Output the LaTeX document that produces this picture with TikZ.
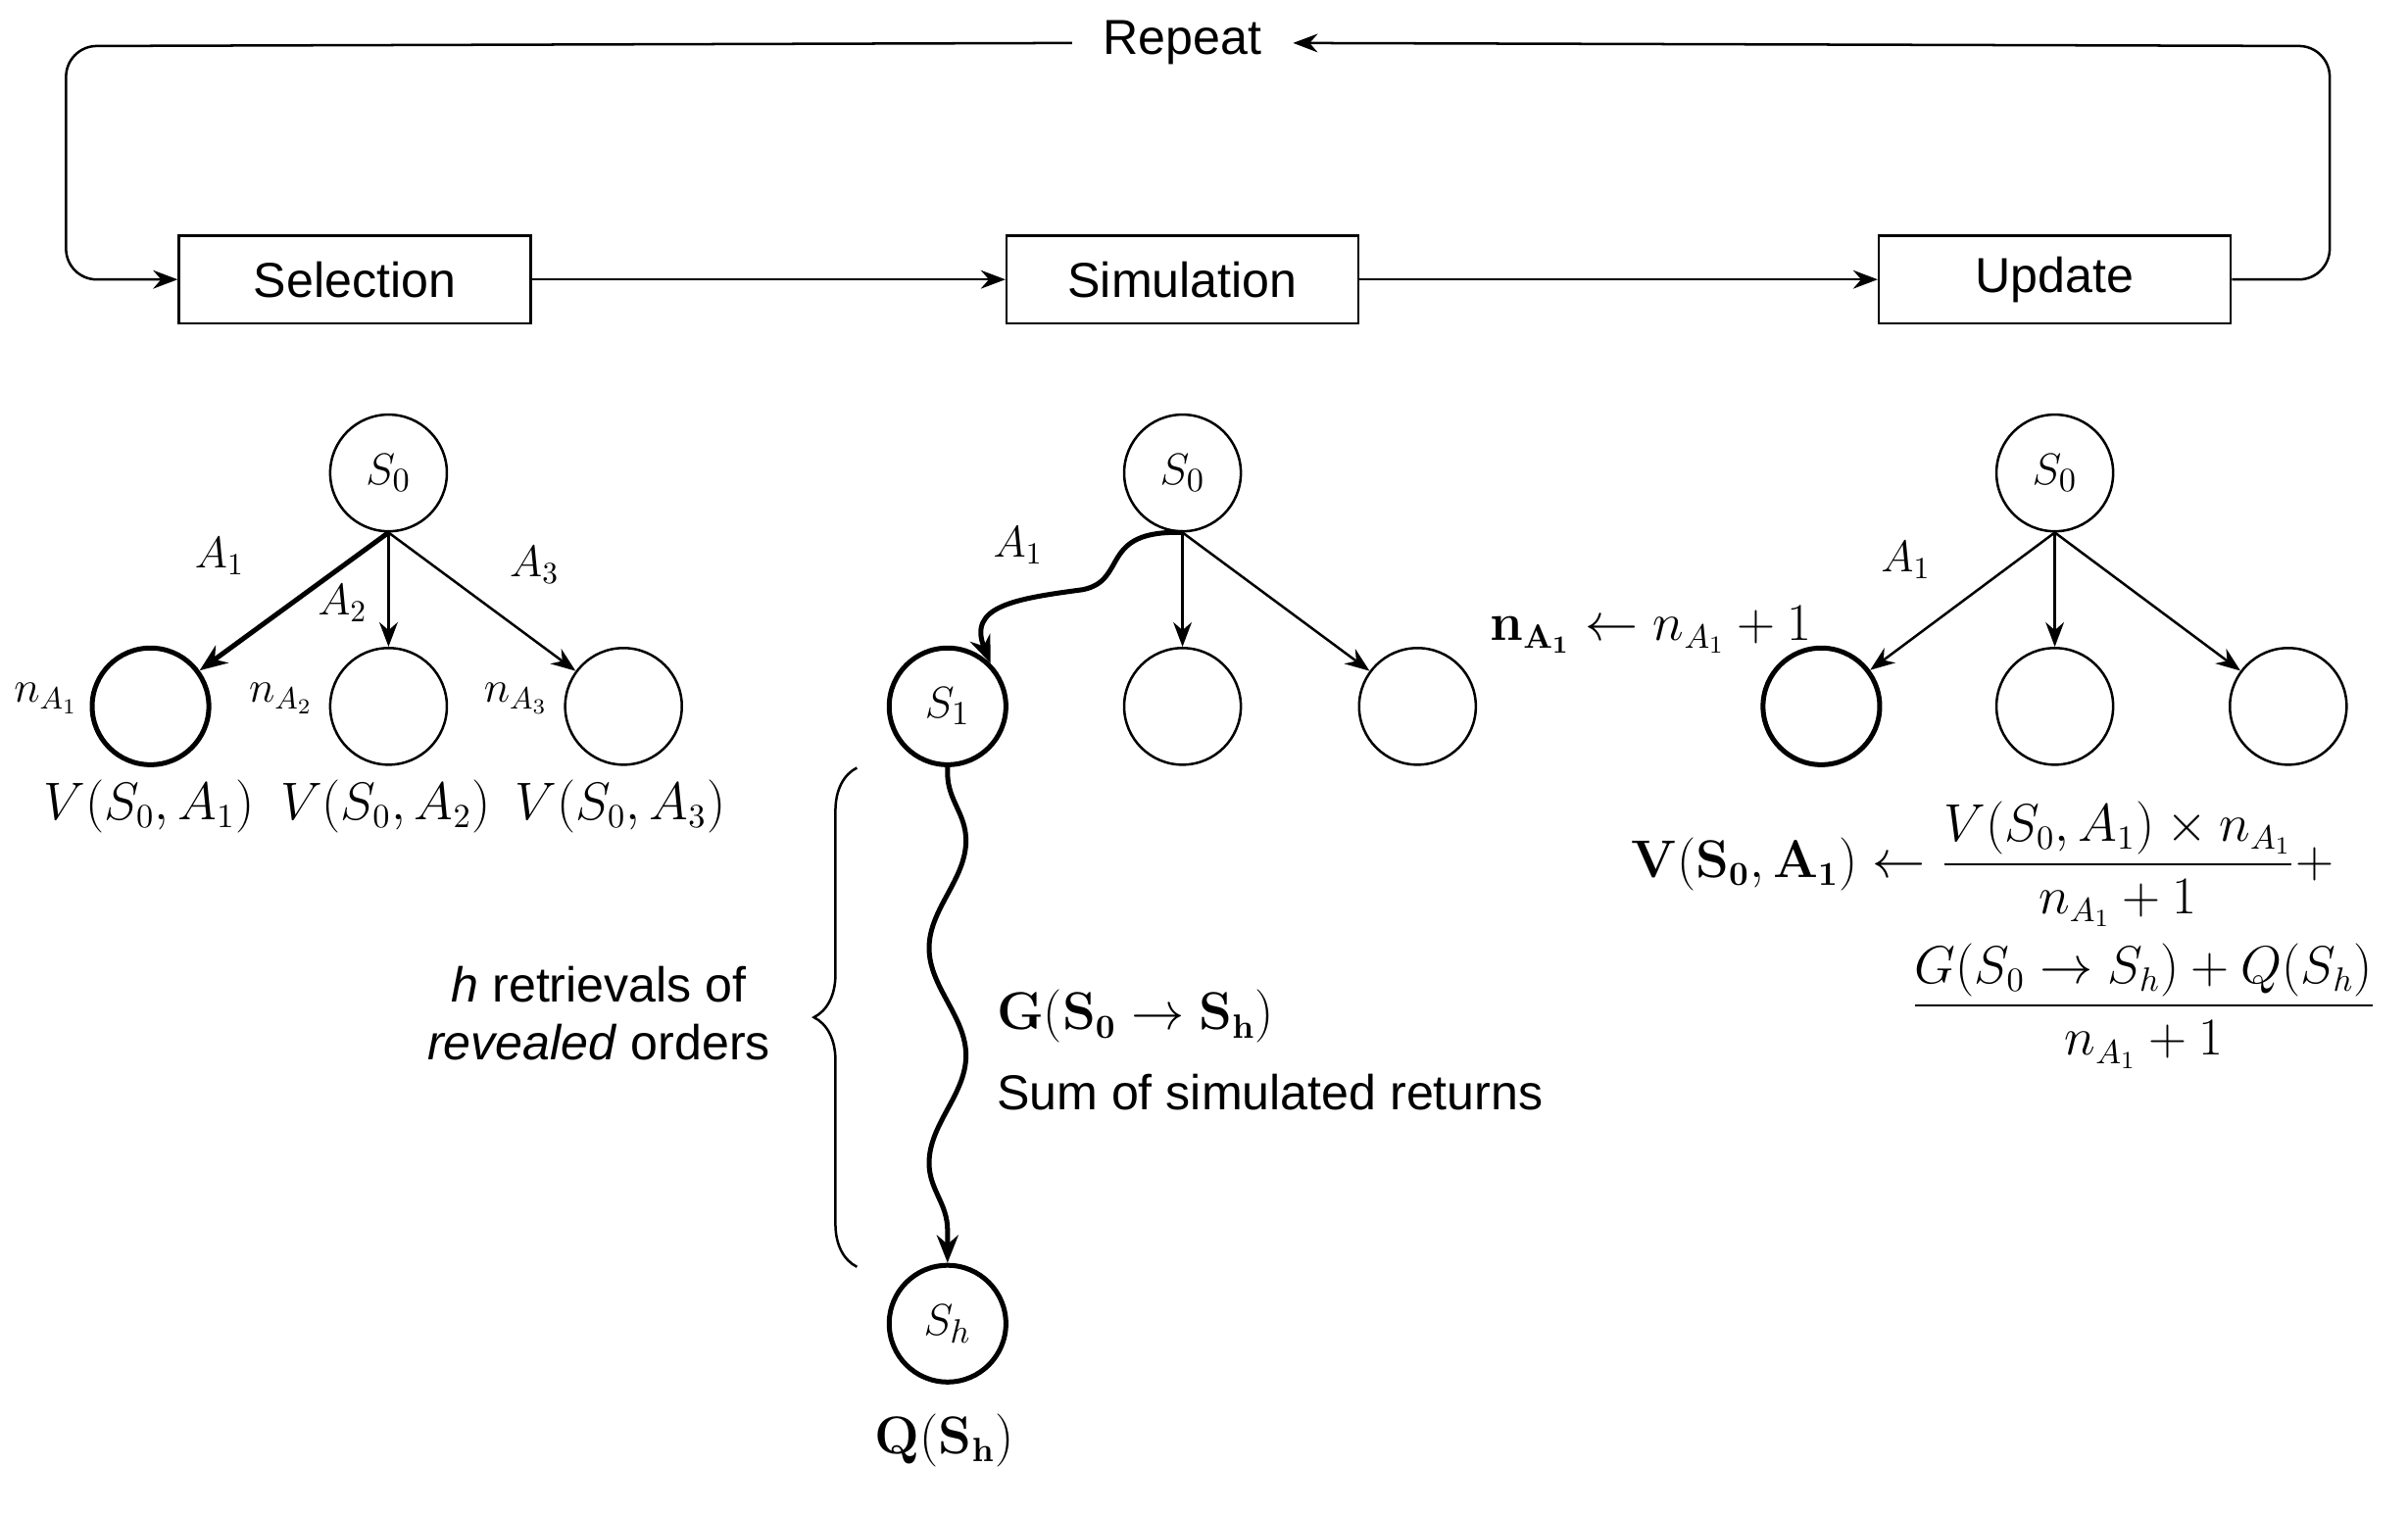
\documentclass[tikz,border=0pt]{standalone}
\usepackage{amsmath}
\usepackage[no-math]{fontspec}
\setmainfont{Liberation Sans}
\usetikzlibrary{arrows.meta,decorations.pathmorphing,decorations.pathreplacing}
\begin{document}
\begin{tikzpicture}[x=0.5pt,y=-0.5pt,
  box/.style={draw,thick,minimum width=114.5pt,minimum height=28.5pt,font=\fontsize{16}{19}\selectfont},
  st/.style={draw,circle,thick,minimum size=38pt,inner sep=0pt,font=\fontsize{15}{17}\selectfont},
  bst/.style={st,line width=1.6pt},
  arr/.style={-{Stealth[length=8pt,width=6pt]},thick},
  lab/.style={font=\fontsize{14}{17}\selectfont},
  txt/.style={font=\fontsize{16}{19}\selectfont}]
\useasboundingbox (0,0) rectangle (1568,986);
\node[box] (sel) at (231,182) {Selection};
\node[box] (sim) at (770,182) {Simulation};
\node[box] (upd) at (1338,182) {Update};
\node[txt,inner xsep=10pt] (rep) at (770,28) {Repeat};
\coordinate (lt) at (43,30);
\coordinate (rt) at (1517,30);
\draw[arr] (sel) -- (sim);
\draw[arr] (sim) -- (upd);
\draw[arr,rounded corners=10pt] (rep.west) -- (lt) |- (sel.west);
\draw[arr,rounded corners=10pt] (upd.east) -| (rt) -- (rep.east);
% left tree
\node[st] (a0) at (253,308) {$S_0$};
\node[bst] (a1) at (98,460) {};
\node[st] (a2) at (253,460) {};
\node[st] (a3) at (406,460) {};
\draw[-{Stealth[length=9pt,width=7pt]},line width=1.6pt] (a0.south) -- (a1);
\draw[arr] (a0.south) -- (a2);
\draw[arr] (a0.south) -- (a3);
\node[lab] at (143,362) {$A_1$};
\node[lab] at (223,393) {$A_2$};
\node[lab] at (348,368) {$A_3$};
\node[lab] at (30,455) {$n_{A_1}$};
\node[lab] at (183,455) {$n_{A_2}$};
\node[lab] at (336,455) {$n_{A_3}$};
\node[txt] at (97,525) {$V(S_0,A_1)$};
\node[txt] at (251,525) {$V(S_0,A_2)$};
\node[txt] at (404,525) {$V(S_0,A_3)$};
% middle tree
\node[st] (b0) at (770,308) {$S_0$};
\node[bst] (b1) at (617,460) {$S_1$};
\node[st] (b2) at (770,460) {};
\node[st] (b3) at (923,460) {};
\node[bst] (bh) at (617,862) {$S_h$};
\draw[-{Stealth[length=9pt,width=7pt]},line width=1.6pt] (b0.south) .. controls (715,345) and (735,378) .. (705,384) .. controls (660,390) and (630,395) .. (b1.north east);
\draw[arr] (b0.south) -- (b2);
\draw[arr] (b0.south) -- (b3);
\node[lab] at (663,355) {$A_1$};
\draw[-{Stealth[length=9pt,width=7pt]},line width=1.6pt,decorate,decoration={snake,amplitude=6pt,segment length=70pt,pre length=2pt,post length=10pt}] (b1.south) -- (bh.north);
\draw[thick,decorate,decoration={brace,amplitude=14pt}] (558,825) -- (558,500);
\node[txt,align=center] at (390,660) {\textit{h} retrievals of\\\textit{revealed} orders};
\node[txt,anchor=west] at (642,662) {$\mathbf{G(S_0\rightarrow S_h)}$};
\node[txt,anchor=west] at (642,711) {Sum of simulated returns};
\node[txt] at (615,938) {$\mathbf{Q(S_h)}$};
% right tree
\node[st] (c0) at (1338,308) {$S_0$};
\node[bst] (c1) at (1186,460) {};
\node[st] (c2) at (1338,460) {};
\node[st] (c3) at (1490,460) {};
\draw[arr] (c0.south) -- (c1);
\draw[arr] (c0.south) -- (c2);
\draw[arr] (c0.south) -- (c3);
\node[lab] at (1241,365) {$A_1$};
\node[txt] at (1075,410) {$\mathbf{n_{A_1}}\leftarrow n_{A_1}+1$};
\node[txt,anchor=north west] at (1055,515) {$\mathbf{V(S_0,A_1)}\leftarrow \dfrac{V(S_0,A_1)\times n_{A_1}}{n_{A_1}+1}+$};
\node[txt] at (1396,655) {$\dfrac{G(S_0\rightarrow S_h)+Q(S_h)}{n_{A_1}+1}$};
\end{tikzpicture}
\end{document}
